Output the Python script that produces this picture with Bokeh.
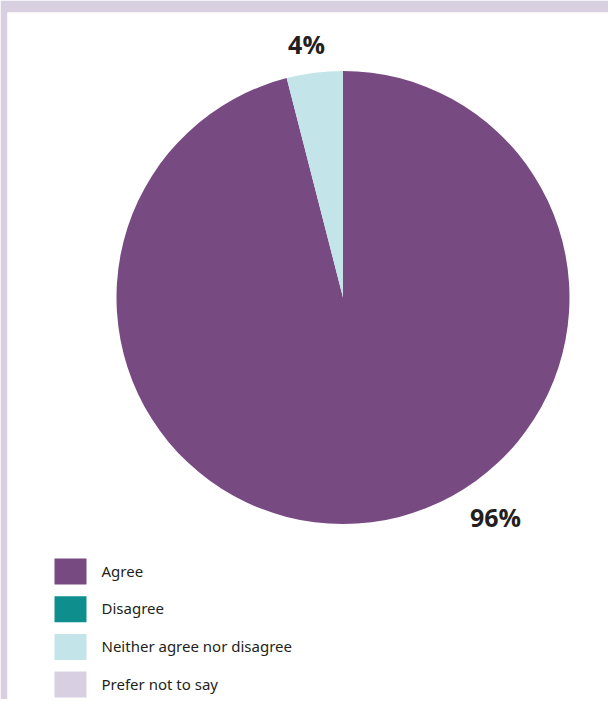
import math
from bokeh.plotting import figure
from bokeh.models import Range1d, ColumnDataSource
from bokeh.core.properties import value
from bokeh.embed import file_html
from bokeh.resources import INLINE

categories = ["Agree", "Disagree", "Neither agree nor disagree", "Prefer not to say"]
percentages = [96, 0, 4, 0]
colors = ["#774a82", "#0e8f8e", "#c3e4e8", "#d8d0e1"]
label_texts = ["96%", "", "4%", ""]

FRAME = "#d8d0e1"
W, H = 608, 699
LEFT, TOP = 7, 12
# data coordinates: x = picture px, y = 715 - picture px
p = figure(width=W, height=H, output_backend="svg", toolbar_location=None,
           x_range=Range1d(LEFT, W), y_range=Range1d(715 - H, 715 - TOP),
           min_border_left=LEFT, min_border_right=0, min_border_bottom=0,
           min_border_top=TOP)
p.border_fill_color = FRAME
p.background_fill_color = "white"
p.outline_line_color = None
p.axis.visible = False
p.xgrid.visible = False
p.ygrid.visible = False

cx, cy, r = 342.5, 715 - 297, 226.5
total = sum(percentages)
starts, ends, cols = [], [], []
acc = 0.0
for v, c in zip(percentages, colors):
    if v > 0:
        a0 = math.pi / 2 - 2 * math.pi * acc / total
        a1 = math.pi / 2 - 2 * math.pi * (acc + v) / total
        starts.append(a0)
        ends.append(a1)
        cols.append(c)
    acc += v
src = ColumnDataSource(dict(x=[cx] * len(starts), y=[cy] * len(starts),
                            s=starts, e=ends, c=cols))
p.wedge(x="x", y="y", radius=r, start_angle="s", end_angle="e", direction="clock",
        fill_color="c", line_color=None, source=src)

# percentage labels
label_pos = {"96%": (495, 715 - 516), "4%": (306, 715 - 43)}
lx, ly, lt = [], [], []
for t in label_texts:
    if t:
        lx.append(label_pos[t][0]); ly.append(label_pos[t][1]); lt.append(t)
p.text(x=lx, y=ly, text=lt, text_font=value("Open Sans"), text_font_style="bold",
       text_font_size="25px", text_color="#231f20", text_align="center",
       text_baseline="middle")

# legend
rows_y = [715 - (571 + 37.7 * i) for i in range(len(categories))]
p.rect(x=[70] * len(categories), y=rows_y, width=32, height=26,
       fill_color=colors, line_color=None)
p.text(x=[101] * len(categories), y=[yy + 1 for yy in rows_y], text=categories,
       text_font=value("Noto Sans"), text_font_size="15px", text_color="#231f20",
       text_align="left", text_baseline="middle")

open("out.html", "w").write(file_html(p, INLINE))
